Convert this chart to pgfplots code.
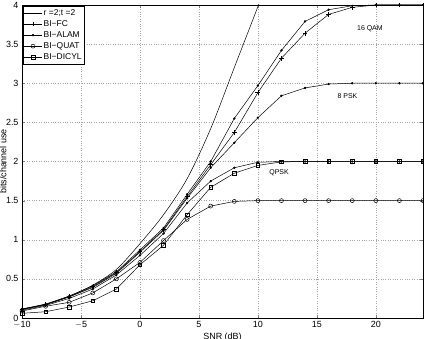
\documentclass[border=0pt]{standalone}
\usepackage{pgfplots}
\pgfplotsset{compat=1.18}
\usepackage{fontspec}
\setmainfont{Liberation Sans}
\begin{document}
\begin{tikzpicture}
\begin{axis}[
  scale only axis,
  width=401bp, height=313bp,
  xmin=-10, xmax=24, ymin=0, ymax=4,
  xtick={-10,-5,0,5,10,15,20},
  ytick={0,0.5,1,1.5,2,2.5,3,3.5,4},
  yticklabels={0,0.5,1,1.5,2,2.5,3,3.5,4},
  xticklabels={$-$10,$-$5,0,5,10,15,20},
  /pgf/number format/assume math mode=true,
  tick label style={font=\fontsize{9}{10}\selectfont},
  tick align=inside,
  major tick length=3bp,
  grid=major,
  major grid style={dotted, gray!70, line width=0.4pt},
  axis line style={black, line width=0.5pt},
  xlabel={SNR (dB)},
  ylabel={bits/channel use},
  label style={font=\fontsize{9}{10}\selectfont},
  xlabel style={at={(axis description cs:0.5,0)}, anchor=center, yshift=-19bp},
  ylabel style={at={(axis description cs:-0.047,0.5)}, anchor=center, rotate=0},
  legend cell align=left,
  legend style={at={(axis cs:-10,4)}, xshift=1bp, yshift=-1bp, anchor=north west,
    font=\fontsize{8.5}{9}\selectfont, draw=black, line width=0.5pt,
    inner sep=1pt, row sep=-0.3pt, fill=white},
  every axis plot/.append style={black, line width=0.5pt},
]
% capacity r=2, t=2
\addplot[smooth, no marks] coordinates {
(-10,0.115) (-8,0.18) (-6,0.28) (-4,0.42) (-2,0.62) (0,0.95) (2,1.32) (4,1.78) (6,2.42) (8,3.2) (10,3.98) (11,4.4)
};
\addlegendentry{r =2;t =2}
% BI-FC 16QAM
\addplot[mark=+, mark size=2.4bp] coordinates {
(-10,0.11) (-8,0.17) (-6,0.27) (-4,0.40) (-2,0.58) (0,0.85) (2,1.13) (4,1.55) (6,1.96) (8,2.37) (10,2.88) (12,3.32) (14,3.64) (16,3.88) (18,3.97) (20,4.0) (22,4.0) (24,4.0)
};
\addlegendentry{BI−FC}
% BI-ALAM 16QAM
\addplot[mark=*, mark size=0.9bp] coordinates {
(-10,0.115) (-8,0.175) (-6,0.28) (-4,0.41) (-2,0.59) (0,0.87) (2,1.15) (4,1.58) (6,2.0) (8,2.55) (10,2.97) (12,3.42) (14,3.79) (16,3.94) (18,3.99) (20,4.0) (22,4.0) (24,4.0)
};
\addlegendentry{BI−ALAM}
% BI-QUAT
\addplot[mark=o, mark size=2bp] coordinates {
(-10,0.09) (-8,0.15) (-6,0.20) (-4,0.32) (-2,0.50) (0,0.71) (2,0.99) (4,1.26) (6,1.43) (8,1.49) (10,1.5) (12,1.5) (14,1.5) (16,1.5) (18,1.5) (20,1.5) (22,1.5) (24,1.5)
};
\addlegendentry{BI−QUAT}
% BI-DICYL
\addplot[mark=square, mark size=1.8bp] coordinates {
(-10,0.06) (-8,0.08) (-6,0.14) (-4,0.22) (-2,0.37) (0,0.68) (2,0.93) (4,1.32) (6,1.67) (8,1.85) (10,1.95) (12,1.995) (14,2.0) (16,2.0) (18,2.0) (20,2.0) (22,2.0) (24,2.0)
};
\addlegendentry{BI−DICYL}
% BI-ALAM 8PSK
\addplot[mark=*, mark size=0.9bp, forget plot] coordinates {
(-10,0.11) (-8,0.17) (-6,0.27) (-4,0.39) (-2,0.57) (0,0.84) (2,1.12) (4,1.53) (6,1.92) (8,2.24) (10,2.56) (12,2.84) (14,2.94) (16,2.99) (18,3.0) (20,3.0) (22,3.0) (24,3.0)
};
% BI-ALAM QPSK
\addplot[mark=*, mark size=0.9bp, forget plot] coordinates {
(-10,0.10) (-8,0.16) (-6,0.25) (-4,0.37) (-2,0.55) (0,0.80) (2,1.08) (4,1.47) (6,1.75) (8,1.92) (10,1.99) (12,2.0) (14,2.0) (16,2.0) (18,2.0) (20,2.0) (22,2.0) (24,2.0)
};
\node[font=\fontsize{7}{8}\selectfont] at (axis cs:19.5,3.70) {16 QAM};
\node[font=\fontsize{7}{8}\selectfont] at (axis cs:17.6,2.84) {8 PSK};
\node[font=\fontsize{7}{8}\selectfont] at (axis cs:11.8,1.86) {QPSK};
\end{axis}
\pgfresetboundingbox
\path ([shift={(-22bp,-21bp)}]current axis.south west) rectangle ([shift={(1bp,5bp)}]current axis.north east);
\end{tikzpicture}
\end{document}
